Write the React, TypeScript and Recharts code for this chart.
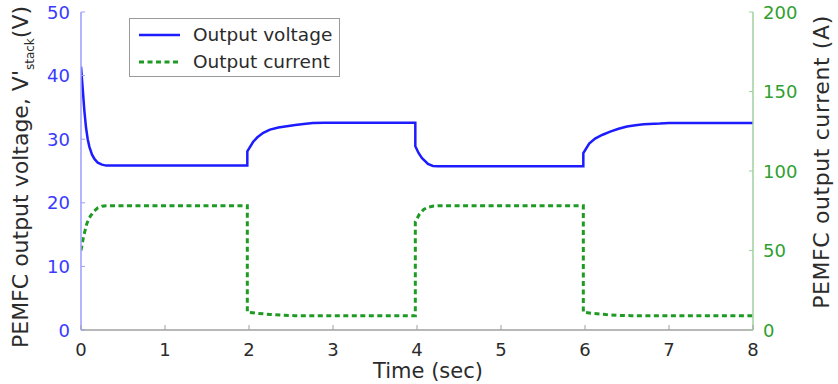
import React from 'react';
import { LineChart, Line, XAxis, YAxis, Legend, Label } from 'recharts';

// ---- data ----
const voltageTime = [
  0, 0.02, 0.04, 0.06, 0.08, 0.1, 0.13, 0.16, 0.2, 0.25, 0.3, 1.98,
  1.98, 2.05, 2.1, 2.17, 2.25, 2.35, 2.45, 2.55, 2.65, 2.76, 2.9, 3.98,
  3.98, 4.02, 4.06, 4.1, 4.13, 4.19, 4.25, 5.98,
  5.98, 6.05, 6.12, 6.21, 6.3, 6.4, 6.5, 6.6, 6.7, 6.89, 7.0, 8.0,
];
const voltageValues = [
  41.4, 38.0, 34.5, 31.8, 30.0, 28.8, 27.6, 26.9, 26.3, 26.0, 25.85, 25.85,
  28.1, 29.6, 30.3, 31.0, 31.5, 31.85, 32.05, 32.25, 32.4, 32.55, 32.6, 32.6,
  28.9, 27.8, 27.0, 26.5, 26.1, 25.8, 25.75, 25.75,
  27.8, 29.3, 30.1, 30.7, 31.2, 31.65, 32.0, 32.2, 32.35, 32.45, 32.55, 32.55,
];
const currentTime = [
  0, 0.03, 0.07, 0.11, 0.15, 0.2, 0.25, 0.3, 1.98,
  1.98, 2.1, 2.25, 2.4, 2.55, 3.98,
  3.98, 4.03, 4.08, 4.13, 4.2, 4.3, 5.98,
  5.98, 6.1, 6.25, 6.4, 6.55, 8.0,
];
const currentValues = [
  50, 58.8, 67, 71.5, 74.5, 76.8, 77.8, 78.2, 78.2,
  11.2, 10.5, 9.8, 9.3, 9.0, 9.0,
  68, 73, 75.8, 77.2, 78, 78.2, 78.2,
  11.2, 10.4, 9.7, 9.2, 9.0, 9.0,
];
const timeTicks = [0, 1, 2, 3, 4, 5, 6, 7, 8];
const voltageTicks = [0, 10, 20, 30, 40, 50];
const currentTicks = [0, 50, 100, 150, 200];
const seriesNames = ['Output voltage', 'Output current'];

const voltageData = voltageTime.map((t, i) => ({ t, v: voltageValues[i] }));
const currentData = currentTime.map((t, i) => ({ t, c: currentValues[i] }));

// ---- styles ----
const FONT = '"DejaVu Sans", "Liberation Sans", sans-serif';
const BLUE = '#1c1cff';
const GREEN = '#1f9a24';
const TEXT = '#2b2b2b';

const LeftTick = (props: any) => {
  const { x, y, payload } = props;
  return (
    <g>
      <line x1={x} x2={x + 4} y1={y} y2={y} stroke="#9c9cff" strokeWidth={1} />
      <text x={x - 11} y={y + 6.5} textAnchor="end" fontFamily={FONT} fontSize={18} fill="#3a3aff">
        {payload.value}
      </text>
    </g>
  );
};

const RightTick = (props: any) => {
  const { x, y, payload } = props;
  return (
    <g>
      <line x1={x} x2={x - 4} y1={y} y2={y} stroke="#9fd09f" strokeWidth={1} />
      <text x={x + 10} y={y + 6.5} textAnchor="start" fontFamily={FONT} fontSize={18} fill="#2f9f2f">
        {payload.value}
      </text>
    </g>
  );
};

const BottomTick = (props: any) => {
  const { x, y, payload } = props;
  return (
    <g>
      <line x1={x} x2={x} y1={y} y2={y - 5} stroke="#a0a0a0" strokeWidth={1} />
      <text x={x} y={y + 26} textAnchor="middle" fontFamily={FONT} fontSize={18} fill={TEXT}>
        {payload.value}
      </text>
    </g>
  );
};

const renderLegend = () => (
  <div
    style={{
      width: 211,
      height: 59,
      boxSizing: 'border-box',
      border: '1px solid #9a9a9a',
      background: '#fff',
    }}
  >
    <svg width={209} height={57} style={{ display: 'block' }}>
      <line x1={9} x2={50} y1={16} y2={16} stroke={BLUE} strokeWidth={2.5} />
      <text x={63} y={22} fontFamily={FONT} fontSize={18.5} fill={TEXT}>
        {seriesNames[0]}
      </text>
      <line x1={9} x2={50} y1={43} y2={43} stroke={GREEN} strokeWidth={3} strokeDasharray="5 3.5" />
      <text x={63} y={49} fontFamily={FONT} fontSize={18.5} fill={TEXT}>
        {seriesNames[1]}
      </text>
    </svg>
  </div>
);

export default function App() {
  return (
    <div style={{ position: 'absolute', left: 0, top: 0, width: 838, height: 384, background: '#fff' }}>
      <LineChart width={838} height={384} margin={{ top: 12, right: 20, bottom: 24, left: 20 }}>
        <XAxis
          dataKey="t"
          type="number"
          domain={[0, 8]}
          ticks={timeTicks}
          interval={0}
          allowDataOverflow
          height={30}
          tickSize={0}
          tickMargin={0}
          tickLine={false}
          axisLine={{ stroke: '#a0a0a0', strokeWidth: 1.5 }}
          tick={BottomTick}
        >
          <Label
            content={() => (
              <text x={428} y={378} textAnchor="middle" fontFamily={FONT} fontSize={21} fill={TEXT}>
                Time (sec)
              </text>
            )}
          />
        </XAxis>
        <YAxis
          yAxisId="left"
          orientation="left"
          type="number"
          domain={[0, 50]}
          ticks={voltageTicks}
          interval={0}
          width={61}
          tickSize={0}
          tickMargin={0}
          tickLine={false}
          axisLine={{ stroke: '#9c9cff', strokeWidth: 1.5 }}
          tick={LeftTick}
        >
          <Label
            content={() => (
              <text
                transform="translate(28,177) rotate(-90)"
                textAnchor="middle"
                fontFamily={FONT}
                fontSize={22}
                fill={TEXT}
              >
                PEMFC output voltage, V'
                <tspan fontSize={12} dy={6}>stack</tspan>
                <tspan dy={-6}>(V)</tspan>
              </text>
            )}
          />
        </YAxis>
        <YAxis
          yAxisId="right"
          orientation="right"
          type="number"
          domain={[0, 200]}
          ticks={currentTicks}
          interval={0}
          width={65}
          tickSize={0}
          tickMargin={0}
          tickLine={false}
          axisLine={{ stroke: '#9fd09f', strokeWidth: 1.5 }}
          tick={RightTick}
        >
          <Label
            content={() => (
              <text
                transform="translate(829,162) rotate(-90)"
                textAnchor="middle"
                fontFamily={FONT}
                fontSize={22}
                letterSpacing={0.6}
                fill={TEXT}
              >
                PEMFC output current (A)
              </text>
            )}
          />
        </YAxis>
        <Legend
          layout="vertical"
          align="center"
          verticalAlign="middle"
          content={renderLegend}
          wrapperStyle={{ left: 129, top: 18, width: 211, height: 59 }}
        />
        <Line
          yAxisId="left"
          data={voltageData}
          dataKey="v"
          type="linear"
          stroke={BLUE}
          strokeWidth={2.5}
          dot={false}
          isAnimationActive={false}
          name={seriesNames[0]}
        />
        <Line
          yAxisId="right"
          data={currentData}
          dataKey="c"
          type="linear"
          stroke={GREEN}
          strokeWidth={3}
          strokeDasharray="5 3.5"
          dot={false}
          isAnimationActive={false}
          name={seriesNames[1]}
        />
      </LineChart>
    </div>
  );
}
